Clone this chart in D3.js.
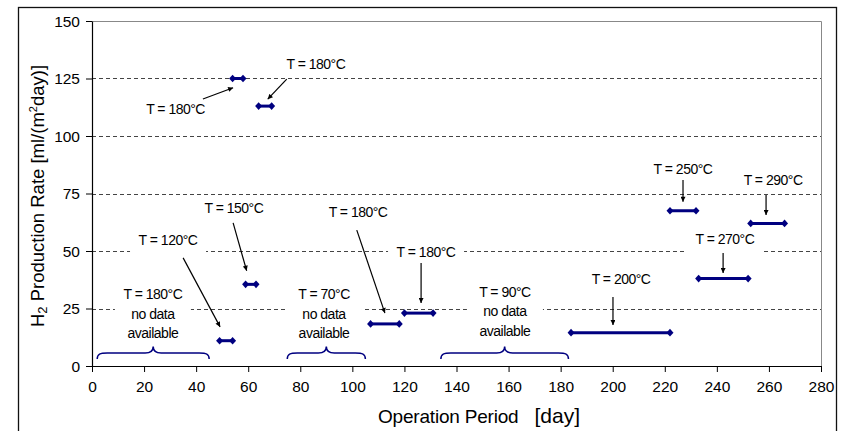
<!DOCTYPE html>
<html>
<head>
<meta charset="utf-8">
<script src="https://cdn.jsdelivr.net/npm/d3@7"></script>
<style>
  html, body { margin: 0; padding: 0; background: #fff; }
  svg { display: block; font-family: "Liberation Sans", Arial, sans-serif; }
</style>
</head>
<body>
<svg id="chart" width="847" height="431"></svg>
<script>
// ---- data ----
const segStart = [49, 59, 54, 64, 107, 120, 184, 222, 253, 233];
const segEnd   = [54, 63, 58, 69, 118, 131, 222, 232, 266, 252];
const segValue = [11, 35.5, 125, 113, 18.3, 23, 14.5, 67.5, 62, 38];

const xTicks = [0, 20, 40, 60, 80, 100, 120, 140, 160, 180, 200, 220, 240, 260, 280];
const yTicks = [0, 25, 50, 75, 100, 125, 150];

const labelText = [
  ["T = 180°C"], ["T = 180°C"], ["T = 120°C"], ["T = 150°C"], ["T = 180°C"], ["T = 180°C"],
  ["T = 90°C", "no data", "available"], ["T = 70°C", "no data", "available"],
  ["T = 180°C", "no data", "available"],
  ["T = 200°C"], ["T = 250°C"], ["T = 290°C"], ["T = 270°C"]
];
const labelDay   = [32.1, 86.0, 29.2, 54.5, 102.2, 128.3, 158.6, 89.1, 23.4, 203.2, 227.0, 261.6, 243.1];
const labelValue = [111.7, 131.3, 54.8, 68.7, 67.0, 49.6, 32.2, 31.3, 31.3, 37.8, 85.7, 80.9, 55.2];
const labelBox   = [false, false, true, false, false, true, true, true, true, false, false, false, true];

const arrowFromDay = [42.6, 74.8, 35.0, 54.2, 101.7, 126.4, 200.1, 227.0, 258.9, 242.4];
const arrowFromVal = [116.1, 124.7, 47.0, 62.2, 59.1, 44.8, 30.0, 80.9, 74.3, 49.1];
const arrowToDay   = [54.2, 67.5, 49.2, 59.4, 112.5, 126.4, 200.1, 227.0, 258.9, 242.4];
const arrowToVal   = [121.0, 116.0, 17.0, 41.4, 23.0, 27.4, 17.8, 71.4, 65.7, 40.4];

const braceStart = [2, 75, 134];
const braceEnd   = [45, 105, 183];

// ---- layout ----
const svg = d3.select("#chart");
const x = d3.scaleLinear().domain([0, 280]).range([92, 821]);
const y = d3.scaleLinear().domain([0, 150]).range([366, 21]);
const navy = "#000080";

// outer frame
svg.append("rect").attr("x", 18.5).attr("y", 7.5).attr("width", 818).attr("height", 440)
  .attr("fill", "none").attr("stroke", "#111").attr("stroke-width", 1.3);

// plot border top/right (gray)
svg.append("path")
  .attr("d", `M${x(0)},${y(150)+0.5}H${x(280)+0.5}V${y(0)}`)
  .attr("fill", "none").attr("stroke", "#888").attr("stroke-width", 1);

// gridlines
svg.append("g").selectAll("line").data(yTicks.filter(d => d > 0 && d < 150)).join("line")
  .attr("x1", x(0)).attr("x2", x(280))
  .attr("y1", d => Math.round(y(d)) + 0.5).attr("y2", d => Math.round(y(d)) + 0.5)
  .attr("stroke", "#444").attr("stroke-width", 1).attr("stroke-dasharray", "4,3");

// label background boxes (hide gridlines)
const labels = labelText.map((t, i) => ({ t, d: labelDay[i], v: labelValue[i], box: labelBox[i] }));
const lineH = 19.5;
svg.append("g").selectAll("rect").data(labels.filter(l => l.box)).join("rect")
  .attr("x", l => x(l.d) - 38)
  .attr("y", l => y(l.v) - 10)
  .attr("width", 76)
  .attr("height", l => 24 + (l.t.length - 1) * lineH)
  .attr("fill", "#fff");

// axes
const gx = svg.append("g").attr("transform", `translate(0,${y(0)})`)
  .call(d3.axisBottom(x).tickValues(xTicks).tickSize(6).tickSizeOuter(0).tickPadding(9));
const gy = svg.append("g").attr("transform", `translate(${x(0)},0)`)
  .call(d3.axisLeft(y).tickValues(yTicks).tickSize(6).tickSizeOuter(0).tickPadding(6));
[gx, gy].forEach(g => {
  g.select(".domain").attr("stroke", "#000").attr("stroke-width", 1.2);
  g.selectAll(".tick line").attr("stroke", "#000");
  g.selectAll(".tick text").attr("fill", "#000").attr("font-size", 15.5)
    .attr("font-family", "'Liberation Sans', Arial, sans-serif");
});
gy.selectAll(".tick text").attr("dy", "0.35em");

// axis titles
const xt = svg.append("text").attr("x", 378).attr("y", 423).attr("fill", "#000");
xt.append("tspan").attr("font-size", 19).attr("letter-spacing", "-0.2").text("Operation Period");
xt.append("tspan").attr("font-size", 21).attr("dx", 16).text("[day]");

const yt = svg.append("text")
  .attr("transform", "translate(44,196) rotate(-90)")
  .attr("text-anchor", "middle").attr("font-size", 18.5).attr("fill", "#000");
yt.append("tspan").text("H");
yt.append("tspan").attr("font-size", 13).attr("dy", 3).text("2");
yt.append("tspan").attr("dy", -3).text(" Production Rate [ml/(m");
yt.append("tspan").attr("font-size", 11).attr("dy", -7).text("2");
yt.append("tspan").attr("dy", 7).text("day)]");

// braces
const braceY = y(0) - 7, armY = y(0) - 13, tipY = y(0) - 19.5;
svg.append("g").selectAll("path").data(braceStart.map((s, i) => [s, braceEnd[i]])).join("path")
  .attr("d", ([s, e]) => {
    const x0 = x(s), x1 = x(e), xm = (x0 + x1) / 2;
    return `M${x0},${braceY} C${x0},${armY+1} ${x0+3},${armY} ${x0+10},${armY}` +
      ` L${xm-8},${armY} C${xm-3},${armY} ${xm},${armY-1.5} ${xm},${tipY}` +
      ` C${xm},${armY-1.5} ${xm+3},${armY} ${xm+8},${armY}` +
      ` L${x1-10},${armY} C${x1-3},${armY} ${x1},${armY+1} ${x1},${braceY}`;
  })
  .attr("fill", "none").attr("stroke", navy).attr("stroke-width", 1.5);

// arrows
svg.append("defs").append("marker")
  .attr("id", "ah").attr("viewBox", "0 0 10 10").attr("refX", 10).attr("refY", 5)
  .attr("markerWidth", 6).attr("markerHeight", 5).attr("markerUnits", "userSpaceOnUse")
  .attr("orient", "auto")
  .append("path").attr("d", "M0,0 L10,5 L0,10 Z").attr("fill", "#000");

svg.append("g").selectAll("line").data(arrowFromDay.map((d, i) => i)).join("line")
  .attr("x1", i => x(arrowFromDay[i])).attr("y1", i => y(arrowFromVal[i]))
  .attr("x2", i => x(arrowToDay[i])).attr("y2", i => y(arrowToVal[i]))
  .attr("stroke", "#000").attr("stroke-width", 1.2).attr("marker-end", "url(#ah)");

// segments
const segs = segStart.map((s, i) => ({ s, e: segEnd[i], v: segValue[i] }));
const gs = svg.append("g");
gs.selectAll("line").data(segs).join("line")
  .attr("x1", d => x(d.s)).attr("x2", d => x(d.e))
  .attr("y1", d => y(d.v)).attr("y2", d => y(d.v))
  .attr("stroke", navy).attr("stroke-width", 3);
const pts = segs.flatMap(d => [{ d: d.s, v: d.v }, { d: d.e, v: d.v }]);
gs.selectAll("path").data(pts).join("path")
  .attr("transform", p => `translate(${x(p.d)},${y(p.v)})`)
  .attr("d", "M-3.5,0 L0,-3.8 L3.5,0 L0,3.8 Z")
  .attr("fill", navy);

// labels
const gl = svg.append("g").attr("font-size", 14).attr("fill", "#000").attr("text-anchor", "middle");
labels.forEach(l => {
  l.t.forEach((line, j) => {
    gl.append("text")
      .attr("x", x(l.d))
      .attr("y", y(l.v) + 5 + j * lineH)
      .attr("letter-spacing", "-0.5")
      .text(line);
  });
});
</script>
</body>
</html>
